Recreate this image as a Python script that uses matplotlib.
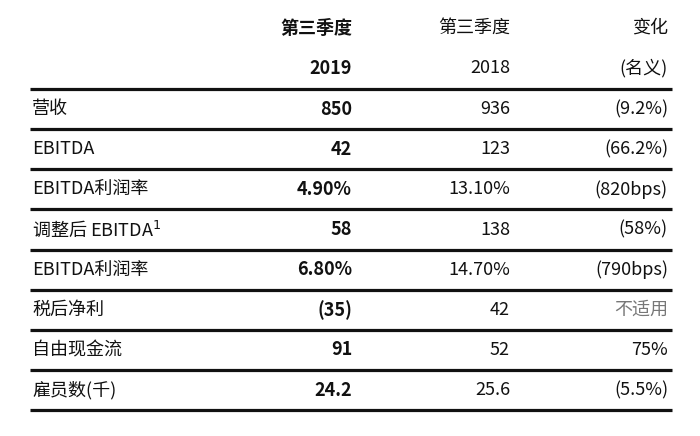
import matplotlib
matplotlib.use("Agg")
import matplotlib.pyplot as plt

labels = ["营收", "EBITDA", "EBITDA利润率", "调整后 EBITDA", "EBITDA利润率", "税后净利", "自由现金流", "雇员数(千)"]
q3_2019 = ["850", "42", "4.90%", "58", "6.80%", "(35)", "91", "24.2"]
q3_2018 = ["936", "123", "13.10%", "138", "14.70%", "42", "52", "25.6"]
change = ["(9.2%)", "(66.2%)", "(820bps)", "(58%)", "(790bps)", "不适用", "75%", "(5.5%)"]
headers1 = ["第三季度", "第三季度", "变化"]
headers2 = ["2019", "2018", "(名义)"]

W, H = 700, 436
fig = plt.figure(figsize=(7, 4.36), dpi=100)
ax = fig.add_axes([0, 0, 1, 1])
ax.set_xlim(0, W)
ax.set_ylim(H, 0)
ax.axis("off")
font = "Noto Sans CJK SC"
fs = 13
cols = [352, 510, 668]

for i, (h1, h2) in enumerate(zip(headers1, headers2)):
    w = "bold" if i == 0 else "normal"
    ax.text(cols[i], 28, h1, ha="right", va="center", fontsize=fs, fontfamily=font, fontweight=w, color="#111111")
    ax.text(cols[i], 68, h2, ha="right", va="center", fontsize=fs, fontfamily=font, fontweight=w, color="#111111")

y0, dy = 89, 40.15
for k in range(len(labels) + 1):
    y = y0 + k * dy
    ax.plot([30, 672], [y, y], color="#111111", lw=2.3, solid_capstyle="butt")

for r, lab in enumerate(labels):
    y = y0 + (r + 0.5) * dy
    t = lab + ("$^{1}$" if r == 3 else "")
    ax.text(32, y, t, ha="left", va="center", fontsize=fs, fontfamily=font, color="#111111")
    ax.text(cols[0], y, q3_2019[r], ha="right", va="center", fontsize=fs, fontfamily=font, fontweight="bold", color="#111111")
    ax.text(cols[1], y, q3_2018[r], ha="right", va="center", fontsize=fs, fontfamily=font, color="#111111")
    c = "#777777" if change[r] == "不适用" else "#111111"
    ax.text(cols[2], y, change[r], ha="right", va="center", fontsize=fs, fontfamily=font, color=c)

fig.savefig("out.png", dpi=100)
